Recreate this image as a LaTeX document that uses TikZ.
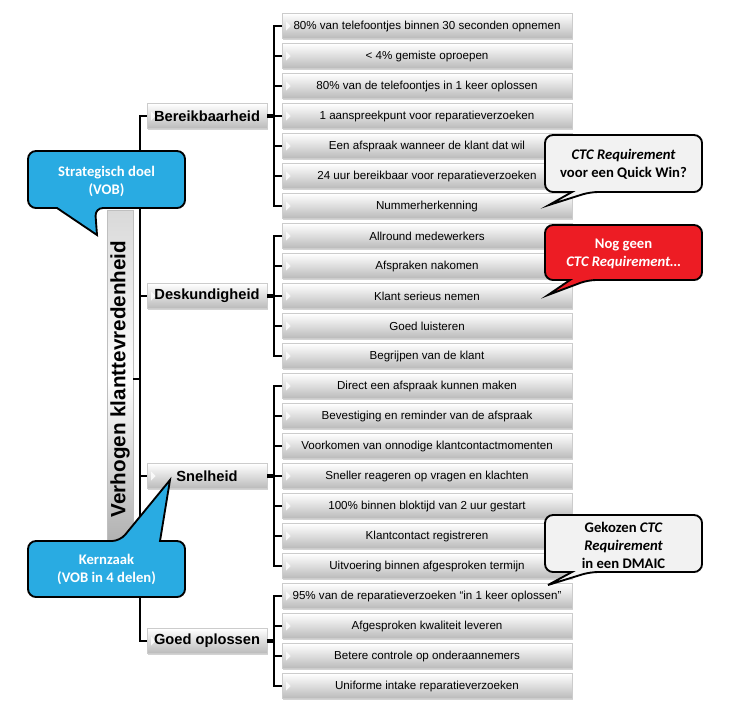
\documentclass[tikz,border=0pt]{standalone}
\usepackage{fontspec}
\setmainfont{Liberation Sans}
\newfontfamily\carlito{Carlito}
\usetikzlibrary{shadows}
\definecolor{cblue}{RGB}{41,171,226}
\definecolor{cred}{RGB}{237,28,36}
\definecolor{cgray}{RGB}{242,242,242}
\begin{document}
\begin{tikzpicture}[x=0.75pt,y=-0.75pt,
 itembox/.style={draw=black!20, line width=0.3pt, top color=white, bottom color=black!27,
   minimum width=217.5pt, minimum height=18.75pt, inner sep=0pt,
   font=\fontsize{8.7}{10}\selectfont,
   drop shadow={shadow xshift=1pt, shadow yshift=-1.2pt, opacity=0.35},
   path picture={\fill[white,opacity=0.8] ([xshift=3pt,yshift=3.5pt]path picture bounding box.west) -- ++(3.5pt,-3.5pt) -- ++(-3.5pt,-3.5pt) -- cycle;}},
 catbox/.style={itembox, minimum width=90pt, font=\bfseries\fontsize{11}{13}\selectfont},
 mainbox/.style={draw=black!25, line width=0.4pt, top color=black!15, bottom color=black!32, middle color=white,
   minimum width=253.5pt, minimum height=19.5pt, inner sep=0pt, rotate=90,
   drop shadow={shadow xshift=1pt, shadow yshift=-1pt, opacity=0.3},
   font=\bfseries\fontsize{15.5}{17}\selectfont},
 tree/.style={line width=1.5pt},
 knob/.style={line width=3pt},
 bubble/.style={draw=black, line width=1.4pt, rounded corners=6pt},
 btext/.style={align=center, font=\carlito\bfseries\fontsize{11}{13.5}\selectfont, inner sep=0pt}
]
\useasboundingbox (0,0) rectangle (732,708);

% main bar
\node[mainbox] (main) at (120,379) {Verhogen klanttevredenheid};

% items
\foreach \t [count=\k from 0] in {
 80\% van telefoontjes binnen 30 seconden opnemen,
 < 4\% gemiste oproepen,
 80\% van de telefoontjes in 1 keer oplossen,
 1 aanspreekpunt voor reparatieverzoeken,
 Een afspraak wanneer de klant dat wil,
 24 uur bereikbaar voor reparatieverzoeken,
 Nummerherkenning,
 Allround medewerkers,
 Afspraken nakomen,
 Klant serieus nemen,
 Goed luisteren,
 Begrijpen van de klant,
 Direct een afspraak kunnen maken,
 Bevestiging en reminder van de afspraak,
 Voorkomen van onnodige klantcontactmomenten,
 Sneller reageren op vragen en klachten,
 100\% binnen bloktijd van 2 uur gestart,
 Klantcontact registreren,
 Uitvoering binnen afgesproken termijn,
 95\% van de reparatieverzoeken “in 1 keer oplossen”,
 Afgesproken kwaliteit leveren,
 Betere controle op onderaannemers,
 Uniforme intake reparatieverzoeken}
 \node[itembox] (i\k) at (427,{26+30*\k}) {\t};

% categories
\node[catbox] (c1) at (207,116) {Bereikbaarheid};
\node[catbox] (c2) at (207,296) {Deskundigheid};
\node[catbox] (c3) at (207,476) {Snelheid};
\node[catbox] (c4) at (207,641) {Goed oplossen};

% spine
\draw[tree] (c1.west) -- ++(-7,0) coordinate (spine) |- (c4.west);
\draw[tree] (c2.west) -- ++(-7,0);
\draw[tree] (c3.west) -- ++(-7,0);
\draw[tree] (main.south) -- (main.south -| spine);

% brackets
\foreach \c/\a/\b in {c1/0/6, c2/7/11, c3/12/18, c4/19/22}{
  \draw[knob] (\c.east) -- ++(7,0);
  \draw[tree] (i\a.west) -- ++(-8,0) |- (i\b.west);
  \foreach \k in {\a,...,\b}{ \draw[tree] (i\k.west) -- ++(-8,0); }
}

% callouts
\draw[bubble, fill=cblue] (106,151) -- (185,151) -- (185,208) -- (95,208) [sharp corners] -- (97,235) -- (57,208) [rounded corners=6pt] -- (28,208) -- (28,151) -- cycle;
\node[btext, text=white] (sd) at (106.5,181) {Strategisch doel\\(VOB)};

\draw[bubble, fill=cblue] (28,569) -- (28,541) -- (120,541) [sharp corners] -- (170,480) -- (160,541) [rounded corners=6pt] -- (185,541) -- (185,597) -- (28,597) -- cycle;
\node[btext, text=white] (kz) at (106.5,569) {Kernzaak\\(VOB in 4 delen)};

\draw[bubble, fill=cgray] (623,135) -- (702,135) -- (702,192) -- (590,192) [sharp corners] -- (549,205) -- (572,192) [rounded corners=6pt] -- (545,192) -- (545,135) -- cycle;
\node[btext] (qw) at (623.5,164) {{\itshape CTC Requirement}\\voor een Quick Win?};

\draw[bubble, fill=cred] (623,225) -- (702,225) -- (702,280) -- (588,280) [sharp corners] -- (548,295) -- (570,280) [rounded corners=6pt] -- (545,280) -- (545,225) -- cycle;
\node[btext, text=white] (ng) at (623.5,253.5) {Nog geen\\{\itshape CTC Requirement…}};

\draw[bubble, fill=cgray] (623,515) -- (702,515) -- (702,572) -- (590,572) [sharp corners] -- (548,585) -- (572,572) [rounded corners=6pt] -- (545,572) -- (545,515) -- cycle;
\node[btext] (gk) at (623.5,545) {Gekozen {\itshape CTC}\\{\itshape Requirement}\\in een DMAIC};
\end{tikzpicture}
\end{document}
